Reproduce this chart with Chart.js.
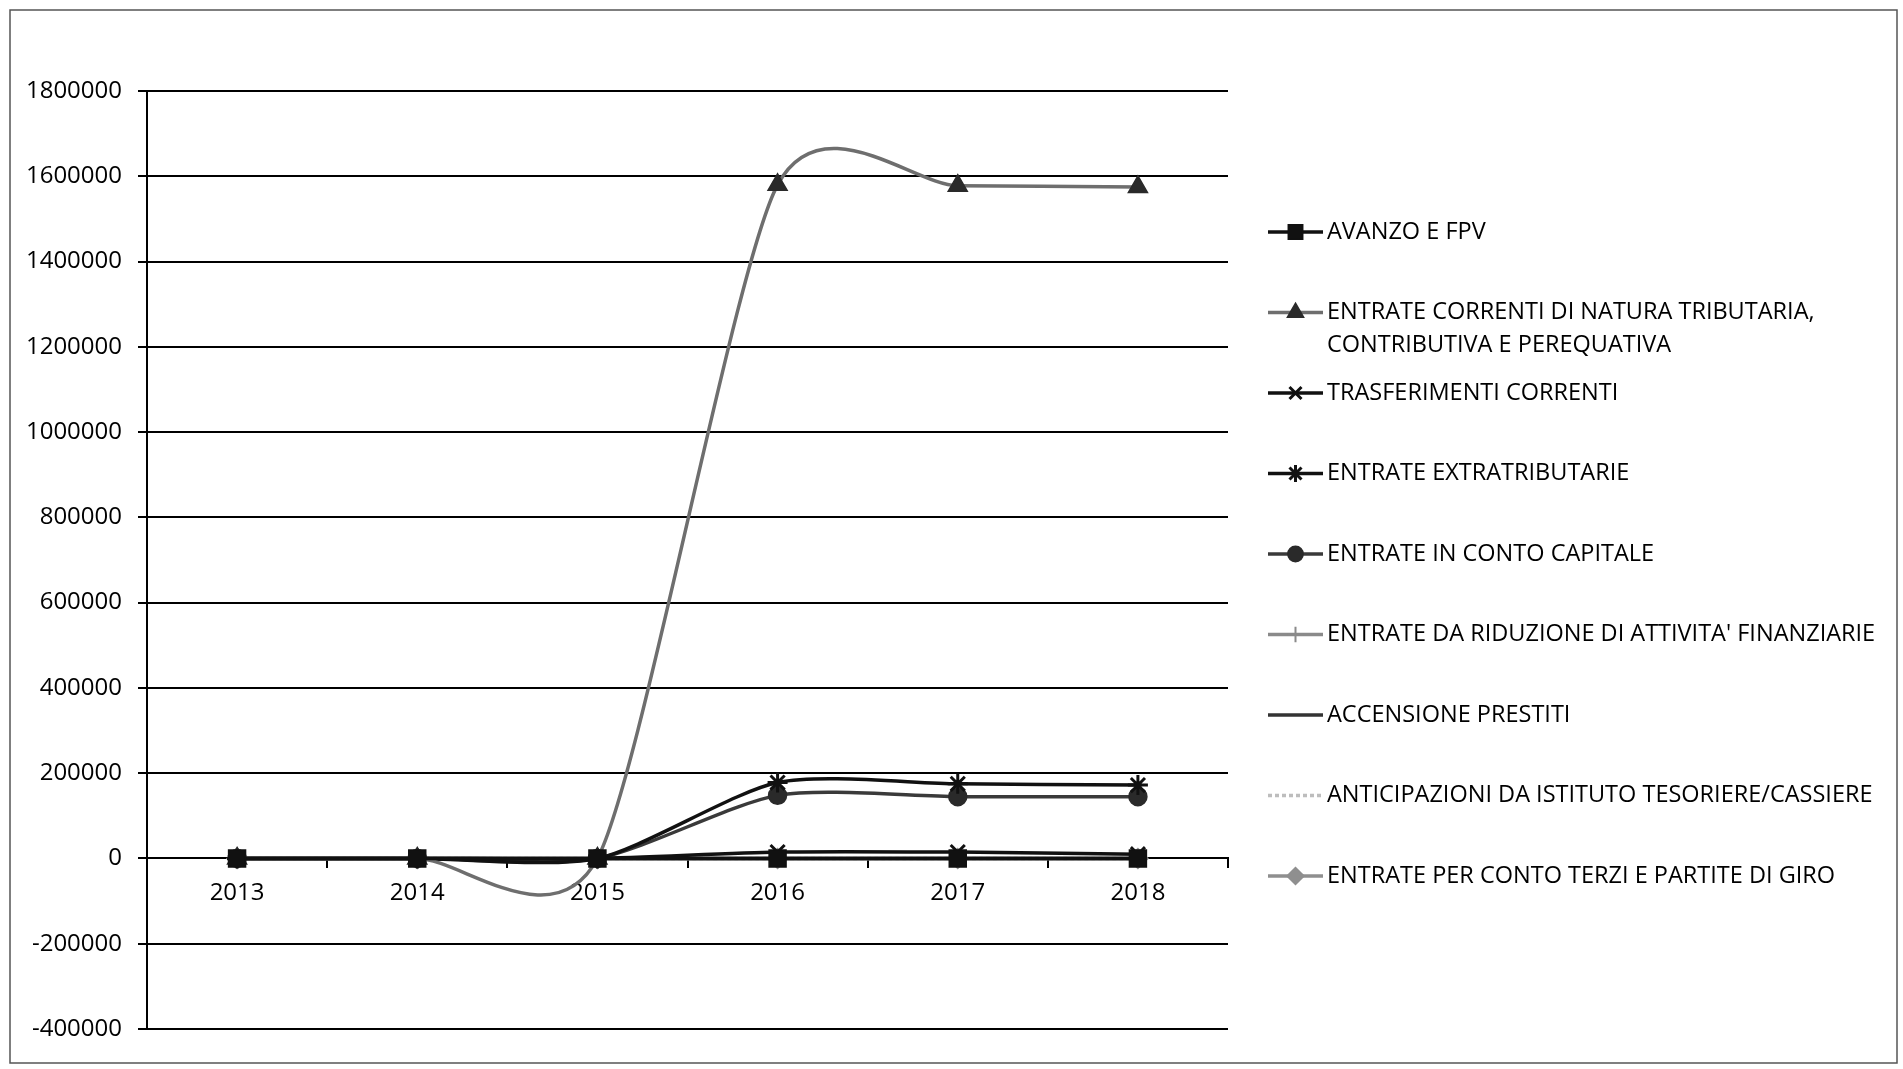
<!DOCTYPE html>
<html>
<head>
<meta charset="utf-8">
<script src="https://cdn.jsdelivr.net/npm/chart.js@4/dist/chart.umd.min.js"></script>
<style>
  html, body { margin: 0; padding: 0; background: #fff; }
  #wrap { position: relative; width: 1903px; height: 1069px; }
</style>
</head>
<body>
<div id="wrap"><canvas id="c"></canvas></div>
<script>
// ---- data ----
const categories = ['2013', '2014', '2015', '2016', '2017', '2018'];
const seriesNames = [
  'AVANZO E FPV',
  'ENTRATE CORRENTI DI NATURA TRIBUTARIA,\nCONTRIBUTIVA E PEREQUATIVA',
  'TRASFERIMENTI CORRENTI',
  'ENTRATE EXTRATRIBUTARIE',
  'ENTRATE IN CONTO CAPITALE',
  "ENTRATE DA RIDUZIONE DI ATTIVITA' FINANZIARIE",
  'ACCENSIONE PRESTITI',
  'ANTICIPAZIONI DA ISTITUTO TESORIERE/CASSIERE',
  'ENTRATE PER CONTO TERZI E PARTITE DI GIRO'
];
const avanzoFpv        = [0, 0, 0, 0, 0, 0];
const entrateTributarie = [0, 0, 0, 1580000, 1578000, 1575000];
const trasferimenti    = [0, 0, 0, 15000, 15000, 10000];
const extratributarie  = [0, 0, 0, 178000, 175000, 172000];
const contoCapitale    = [0, 0, 0, 148000, 145000, 145000];
const riduzioneAttivita = [0, 0, 0, 0, 0, 0];
const accensionePrestiti = [0, 0, 0, 0, 0, 0];
const anticipazioni    = [0, 0, 0, 0, 0, 0];
const contoTerzi       = [0, 0, 0, 0, 0, 0];
const yTicks = { min: -400000, max: 1800000, step: 200000 };

const FONT = '"Open Sans", Lato, sans-serif';

function ds(label, data, color, style, radius, extra) {
  return Object.assign({
    label, data,
    borderColor: color,
    backgroundColor: color,
    borderWidth: 3.5,
    pointStyle: style || 'circle',
    pointRadius: style ? radius : 0,
    pointHoverRadius: style ? radius : 0,
    pointBackgroundColor: color,
    pointBorderColor: color,
    pointBorderWidth: 1.5,
    tension: 0.4,
    fill: false
  }, extra || {});
}

const datasets = [
  ds(seriesNames[0], avanzoFpv, '#111', 'rect', 12),
  ds(seriesNames[1], entrateTributarie, '#6e6e6e', 'triangle', 11, { pointBackgroundColor: '#2a2a2a', pointBorderColor: '#2a2a2a' }),
  ds(seriesNames[2], trasferimenti, '#111', 'crossRot', 10, { pointBorderWidth: 3 }),
  ds(seriesNames[3], extratributarie, '#111', 'star', 10, { pointBorderWidth: 3 }),
  ds(seriesNames[4], contoCapitale, '#3a3a3a', 'circle', 9, { pointBackgroundColor: '#2a2a2a', pointBorderColor: '#2a2a2a' }),
  ds(seriesNames[5], riduzioneAttivita, '#8a8a8a', 'cross', 9, { pointBorderWidth: 2 }),
  ds(seriesNames[6], accensionePrestiti, '#333', null, 0),
  ds(seriesNames[7], anticipazioni, '#bdbdbd', null, 0, { borderDash: [4, 3] }),
  ds(seriesNames[8], contoTerzi, '#8f8f8f', 'rectRot', 10)
];

// Excel-style smoothing: control points from neighbouring points (uniform Catmull-Rom-like)
const excelSmooth = {
  id: 'excelSmooth',
  beforeDatasetDraw(chart, args, opts) {
    const meta = args.meta;
    const line = meta.dataset;
    const pts = meta.data;
    if (!line || !pts) return;
    const k = opts.k;
    for (let i = 0; i < pts.length; i++) {
      const p = pts[i], prev = pts[i - 1] || p, next = pts[i + 1] || p;
      const dx = (next.x - prev.x) * k, dy = (next.y - prev.y) * k;
      p.cp1x = p.x - dx; p.cp1y = p.y - dy;
      p.cp2x = p.x + dx; p.cp2y = p.y + dy;
    }
    line._pointsUpdated = true;
    line._path = undefined;
  }
};

const sideLegend = {
  id: 'sideLegend',
  afterDraw(chart, args, o) {
    const ctx = chart.ctx;
    chart.data.datasets.forEach((d, i) => {
      const y = o.top + i * o.spacing;
      ctx.save();
      ctx.strokeStyle = d.borderColor;
      ctx.lineWidth = d.borderWidth;
      ctx.setLineDash(d.borderDash || []);
      ctx.beginPath();
      ctx.moveTo(o.x0, y);
      ctx.lineTo(o.x1, y);
      ctx.stroke();
      ctx.setLineDash([]);
      if (d.pointRadius > 0 && Chart.helpers && Chart.helpers.drawPoint) {
        ctx.fillStyle = d.pointBackgroundColor;
        ctx.strokeStyle = d.pointBorderColor;
        ctx.lineWidth = d.pointBorderWidth;
        Chart.helpers.drawPoint(ctx, { pointStyle: d.pointStyle, radius: d.pointRadius * 0.85, borderWidth: d.pointBorderWidth, rotation: 0 }, (o.x0 + o.x1) / 2, y);
      }
      ctx.fillStyle = '#000';
      ctx.font = o.font;
      ctx.textBaseline = 'middle';
      ctx.textAlign = 'left';
      String(d.label).split('\n').forEach((line, k) => {
        ctx.fillText(line, o.textX, y + k * o.lineGap);
      });
      ctx.restore();
    });
  }
};

const frame = {
  id: 'frame',
  beforeDraw(chart) {
    const ctx = chart.ctx;
    ctx.save();
    ctx.fillStyle = '#fff';
    ctx.fillRect(0, 0, chart.width, chart.height);
    ctx.strokeStyle = '#555';
    ctx.lineWidth = 1.5;
    ctx.strokeRect(10, 10, chart.width - 16, chart.height - 16);
    ctx.restore();
  }
};

new Chart(document.getElementById('c'), {
  type: 'line',
  data: { labels: categories, datasets },
  plugins: [frame, excelSmooth, sideLegend],
  options: {
    responsive: true,
    maintainAspectRatio: false,
    animation: false,
    layout: { padding: { left: 0, top: 91, right: 675, bottom: 40 } },
    plugins: {
      legend: { display: false },
      tooltip: { enabled: false },
      excelSmooth: { k: 0.122 },
      sideLegend: { top: 232, spacing: 80.5, x0: 1268, x1: 1323, textX: 1327, lineGap: 33, font: '500 23.5px ' + FONT }
    },
    scales: {
      y: {
        min: yTicks.min, max: yTicks.max,
        afterFit(scale) { scale.width = 147; },
        ticks: {
          stepSize: yTicks.step,
          color: '#000',
          padding: 16,
          font: { family: FONT, size: 24, weight: '500' },
          callback: v => String(v)
        },
        grid: { color: '#000', lineWidth: 2, tickLength: 9, drawTicks: true },
        border: { display: true, color: '#000', width: 2 }
      },
      x: {
        position: { y: 0 },
        offset: true,
        ticks: { color: '#000', padding: 11, maxRotation: 0, font: { family: FONT, size: 24, weight: '500' } },
        grid: { offset: true, drawOnChartArea: false, drawTicks: true, tickLength: 9, color: '#000', lineWidth: 2 },
        border: { display: true, color: '#000', width: 2 }
      }
    }
  }
});
</script>
</body>
</html>
